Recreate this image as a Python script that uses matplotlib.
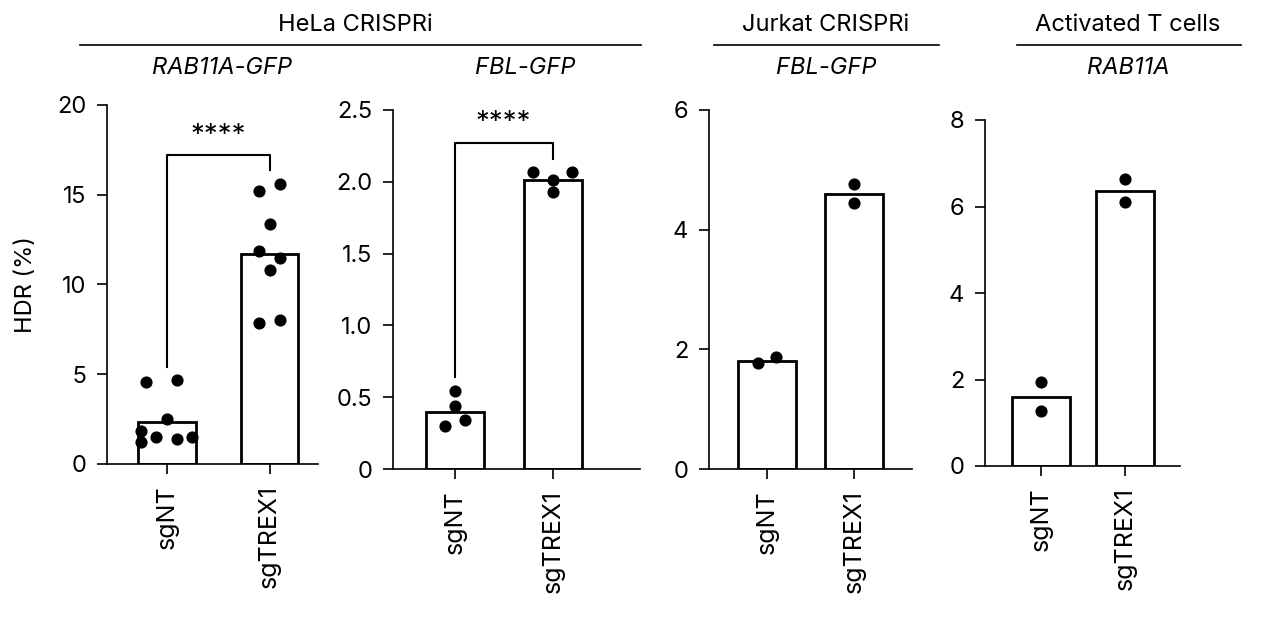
import numpy as np
import matplotlib.pyplot as plt

# Data
groups = ["sgNT", "sgTREX1"]
hela_rab_nt = [4.58, 4.68, 2.49, 1.86, 1.24, 1.52, 1.39, 1.52]
hela_rab_trex = [15.2, 15.58, 13.39, 11.88, 11.48, 10.79, 7.84, 8.02]
hela_rab_bars = [2.36, 11.72]
hela_fbl_nt = [0.54, 0.44, 0.34, 0.30]
hela_fbl_trex = [2.07, 2.07, 2.01, 1.93]
hela_fbl_bars = [0.40, 2.01]
jurkat_nt = [1.77, 1.87]
jurkat_trex = [4.77, 4.44]
jurkat_bars = [1.81, 4.59]
tcell_nt = [1.94, 1.27]
tcell_trex = [6.64, 6.10]
tcell_bars = [1.59, 6.36]

W, H = 1279, 628
plt.rcParams["font.family"] = "Inter"
fig = plt.figure(figsize=(W / 100, H / 100), dpi=100)

def px_axes(x0, x1, ytop, ybot):
    return fig.add_axes([x0 / W, 1 - ybot / H, (x1 - x0) / W, (ybot - ytop) / H])

panels = [
    dict(box=(107, 318, 105, 464), xlim=(-0.58, 1.47), bw=0.56, ylim=(0, 20),
         ticks=[0, 5, 10, 15, 20], tl=["0", "5", "10", "15", "20"],
         bars=hela_rab_bars, pts=[hela_rab_nt, hela_rab_trex],
         offs=[[-0.2, 0.1, 0, -0.25, -0.25, -0.1, 0.1, 0.25],
               [-0.1, 0.1, 0, -0.1, 0.1, 0, -0.1, 0.1]],
         sig=(5.4, 17.2, 16.4, 18.3)),
    dict(box=(393, 640, 110, 469), xlim=(-0.63, 1.89), bw=0.59, ylim=(0, 2.5),
         ticks=[0, 0.5, 1.0, 1.5, 2.0, 2.5], tl=["0", "0.5", "1.0", "1.5", "2.0", "2.5"],
         bars=hela_fbl_bars, pts=[hela_fbl_nt, hela_fbl_trex],
         offs=[[0, 0, 0.1, -0.1], [-0.2, 0.2, 0, 0]],
         sig=(0.64, 2.27, 2.16, 2.41)),
    dict(box=(709, 912, 110, 469), xlim=(-0.67, 1.67), bw=0.67, ylim=(0, 6),
         ticks=[0, 2, 4, 6], tl=["0", "2", "4", "6"],
         bars=jurkat_bars, pts=[jurkat_nt, jurkat_trex],
         offs=[[-0.1, 0.1], [0, 0]], sig=None),
    dict(box=(985, 1180, 120, 466), xlim=(-0.67, 1.65), bw=0.69, ylim=(0, 8),
         ticks=[0, 2, 4, 6, 8], tl=["0", "2", "4", "6", "8"],
         bars=tcell_bars, pts=[tcell_nt, tcell_trex],
         offs=[[0, 0], [0, 0]], sig=None),
]

x = np.arange(len(groups))
for i, p in enumerate(panels):
    ax = px_axes(*p["box"])
    ax.bar(x, p["bars"], width=p["bw"], facecolor="white", edgecolor="black", linewidth=2, zorder=2)
    for j in range(2):
        ax.scatter(x[j] + np.array(p["offs"][j]), p["pts"][j], s=60, color="black", zorder=3, clip_on=False)
    ax.set_xlim(*p["xlim"])
    ax.set_ylim(*p["ylim"])
    ax.set_yticks(p["ticks"])
    ax.set_yticklabels(p["tl"])
    ax.set_xticks(x)
    ax.set_xticklabels(groups, rotation=90, fontsize=18)
    ax.tick_params(axis="y", labelsize=17, length=7, width=1.2, pad=8)
    ax.tick_params(axis="x", length=7, width=1.2, pad=8)
    for s in ["top", "right"]:
        ax.spines[s].set_visible(False)
    for s in ["left", "bottom"]:
        ax.spines[s].set_linewidth(1.2)
    if p["sig"]:
        y0, ytop, y1, ystar = p["sig"]
        ax.plot([0, 0, 1, 1], [y0, ytop, ytop, y1], color="black", lw=1.5, clip_on=False)
        ax.text(0.5, ystar, "****", ha="center", va="center", fontsize=20)
    if i == 0:
        ax.set_ylabel("HDR (%)", fontsize=17, labelpad=14)

def fig_text(xp, yp, s, **kw):
    fig.text(xp / W, 1 - yp / H, s, ha="center", va="center", fontsize=17, **kw)

def fig_line(x0, x1, yp):
    fig.add_artist(plt.Line2D([x0 / W, x1 / W], [1 - yp / H] * 2, color="black", lw=1.2))

fig_text(355, 25, "HeLa CRISPRi")
fig_line(80, 641, 45)
fig_text(222, 68, "RAB11A-GFP", style="italic")
fig_text(525, 68, "FBL-GFP", style="italic")
fig_text(826, 25, "Jurkat CRISPRi")
fig_line(714, 939, 45)
fig_text(826, 68, "FBL-GFP", style="italic")
fig_text(1128, 25, "Activated T cells")
fig_line(1017, 1241, 45)
fig_text(1128, 68, "RAB11A", style="italic")

fig.savefig("out.png", dpi=100)
